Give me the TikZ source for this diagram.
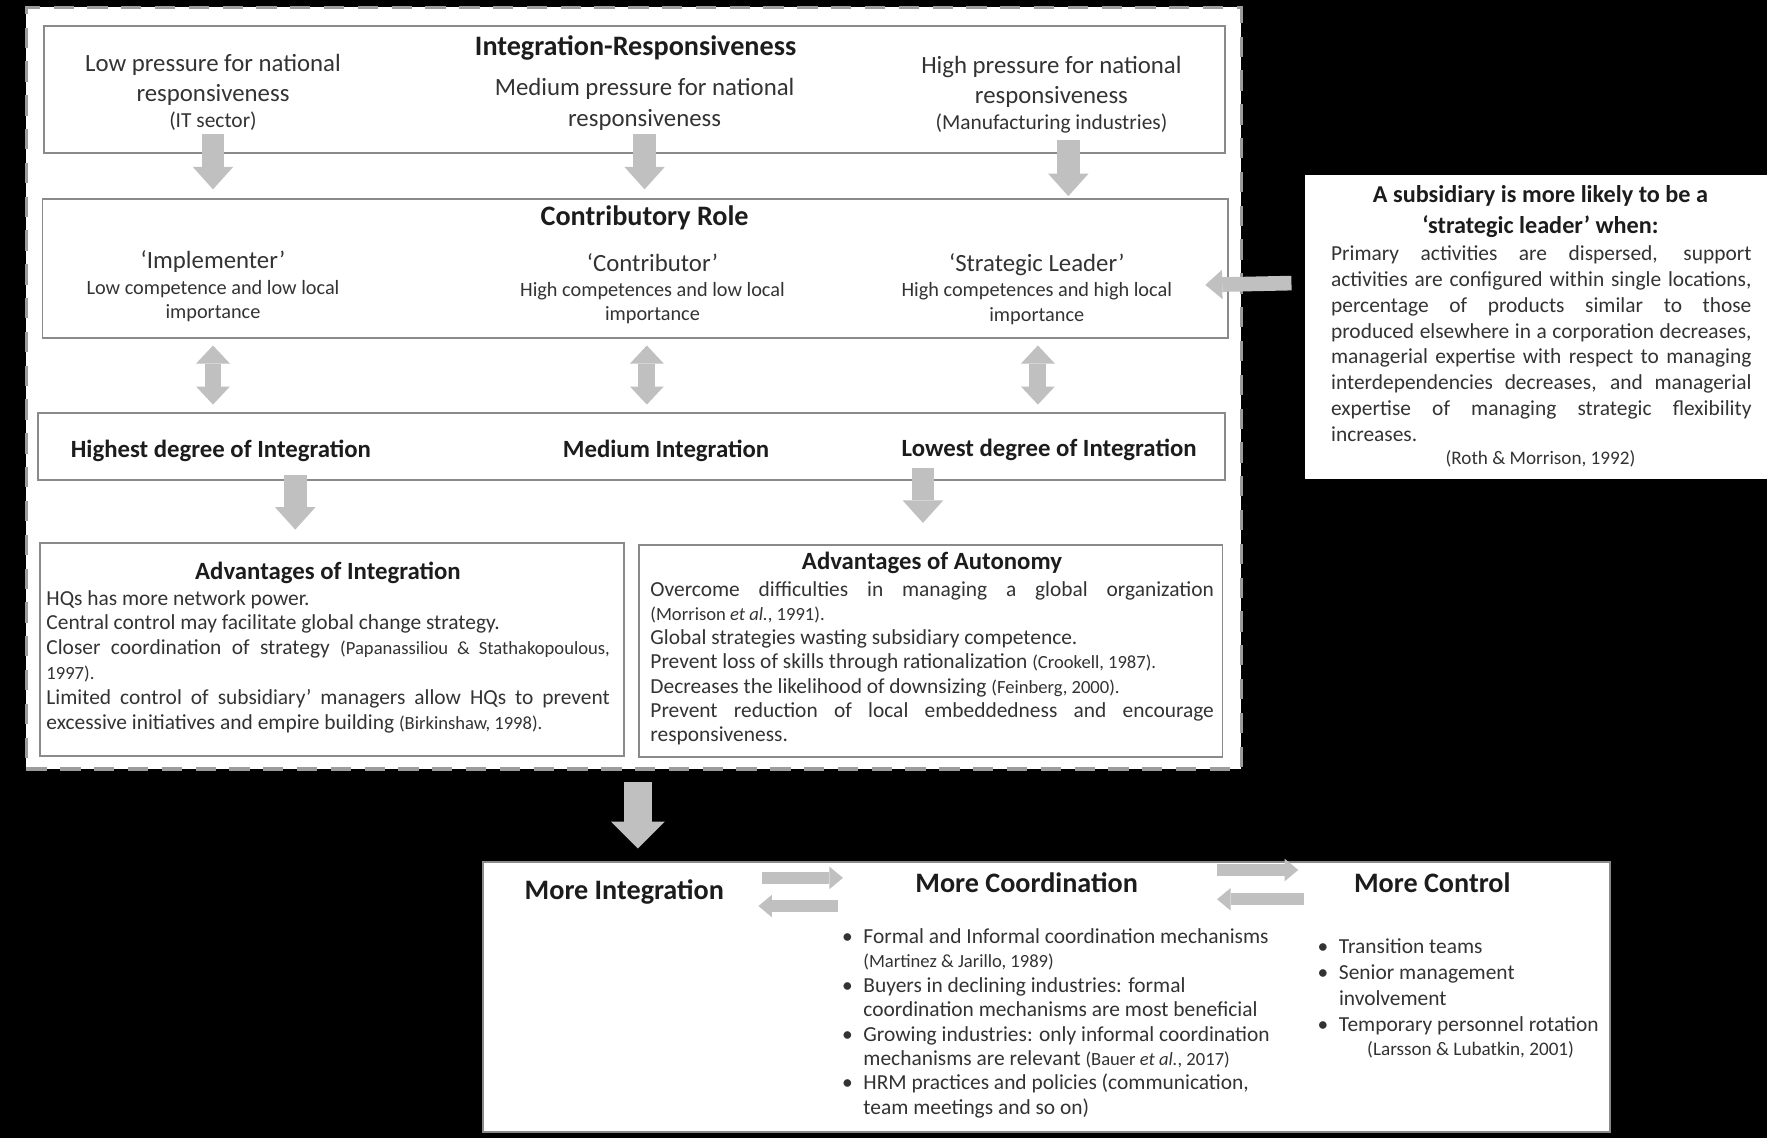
\documentclass[tikz,border=0pt]{standalone}
\usepackage{fontspec}
\setmainfont{Carlito}
\usetikzlibrary{arrows.meta,calc}
\definecolor{agray}{HTML}{C0C0C0}
\definecolor{bgray}{HTML}{8A8A8A}
\definecolor{dgray}{HTML}{9C9C9C}
\definecolor{txtc}{HTML}{333333}
\definecolor{ttlc}{HTML}{1C1C1C}
\newcommand\smallcite{\fontsize{16.5}{19}\selectfont}
\newcommand\jline[1]{\hbox to\hsize{#1}}
\newcommand\bul{\hbox to 19pt{\textbullet\hss}}
\newcommand\bulskip{\kern19pt}
\begin{document}
\begin{tikzpicture}[x=1pt,y=1pt,
  box/.style={draw=bgray,line width=1.6pt,fill=white,anchor=north west,inner sep=0pt},
  ttl/.style={font=\fontsize{25}{30}\selectfont\bfseries,text=ttlc,inner sep=0pt,anchor=base},
  sttl/.style={font=\fontsize{22}{27}\selectfont\bfseries,text=ttlc,inner sep=0pt,anchor=base},
  ctrtxt/.style={align=center,text=txtc,inner sep=0pt,anchor=base},
  bodytxt/.style={text=txtc,inner sep=0pt,anchor=base west},
  darr/.style={draw=agray,line width=20pt,-{Triangle[length=20pt,width=36pt,line width=0pt]}},
  dblarr/.style={draw=agray,line width=15pt,{Triangle[length=16pt,width=30pt,line width=0pt]}-{Triangle[length=16pt,width=30pt,line width=0pt]}},
  larr/.style={draw=agray,line width=13pt,-{Triangle[length=15pt,width=26pt,line width=0pt]}},
  harr/.style={draw=agray,line width=11pt,-{Triangle[length=12pt,width=20pt,line width=0pt]}},
  bigarr/.style={draw=agray,line width=25pt,-{Triangle[length=24pt,width=48pt,line width=0pt]}}
]
\useasboundingbox (0,0) rectangle (1568,-1010);
\fill[black] (0,0) rectangle (1568,-1010);

% outer dashed frame
\node[draw=dgray,fill=white,line width=3pt,dash pattern=on 18pt off 12pt,anchor=north west,inner sep=0pt,
  minimum width=1078pt,minimum height=676pt] (outer) at (22,-5) {};

% boxes
\node[box,minimum width=1048pt,minimum height=113pt] (b1) at (38,-22) {};
\node[box,minimum width=1052pt,minimum height=123pt] (b2) at (37,-176) {};
\node[box,minimum width=1053pt,minimum height=59pt] (b3) at (33,-366) {};
\node[box,minimum width=518pt,minimum height=189pt] (b4) at (35,-481) {};
\node[box,minimum width=518pt,minimum height=188pt] (b5) at (566,-483) {};
\node[fill=white,anchor=north west,inner sep=0pt,minimum width=410pt,minimum height=270pt] (rbox) at (1158,-155) {};
\node[box,minimum width=1000pt,minimum height=240pt] (bot) at (428,-764) {};

% box 1
\node[ttl] (t1) at (564,-49) {Integration-Responsiveness};
\node[ctrtxt,font=\fontsize{22}{27}\selectfont] (lowp) at (189,-113)
  {Low pressure for national\\responsiveness\\[-4pt]{\fontsize{19}{23}\selectfont (IT sector)}};
\node[ctrtxt,font=\fontsize{22}{27}\selectfont] (medp) at (572,-112)
  {Medium pressure for national\\responsiveness};
\node[ctrtxt,font=\fontsize{22}{27}\selectfont] (highp) at (933,-115)
  {High pressure for national\\responsiveness\\[-4pt]{\fontsize{19}{23}\selectfont (Manufacturing industries)}};

% box 2
\node[ttl] (t2) at (572,-200) {Contributory Role};
\node[ctrtxt,font=\fontsize{18}{21.5}\selectfont] (impl) at (189,-282.5)
  {{\fontsize{22}{26}\selectfont ‘Implementer’}\\[1pt]Low competence and low local\\importance};
\node[ctrtxt,font=\fontsize{18}{21.5}\selectfont] (contr) at (579,-284.5)
  {{\fontsize{22}{26}\selectfont ‘Contributor’}\\[1pt]High competences and low local\\importance};
\node[ctrtxt,font=\fontsize{18}{21.5}\selectfont] (strat) at (920,-285)
  {{\fontsize{22}{26}\selectfont ‘Strategic Leader’}\\[1pt]High competences and high local\\importance};

% box 3
\node[sttl] (hi) at (196,-406) {Highest degree of Integration};
\node[sttl] (med) at (591,-406) {Medium Integration};
\node[sttl] (lo) at (931,-405) {Lowest degree of Integration};

% box 4
\node[sttl] (t4) at (291,-514) {Advantages of Integration};
\node[bodytxt] (b4txt) at (41,-537) {\vtop{\hsize=500pt\fontsize{19}{22}\selectfont
  \hbox{HQs has more network power.}
  \hbox{Central control may facilitate global change strategy.}
  \jline{Closer coordination of strategy {\smallcite (Papanassiliou \& Stathakopoulous,}}
  \hbox{{\smallcite 1997).}}
  \jline{Limited control of subsidiary’ managers allow HQs to prevent}
  \hbox{excessive initiatives and empire building {\smallcite (Birkinshaw, 1998).}}}};

% box 5
\node[sttl] (t5) at (827,-505) {Advantages of Autonomy};
\node[bodytxt] (b5txt) at (577,-529) {\vtop{\hsize=500pt\fontsize{19}{21.5}\selectfont
  \jline{Overcome difficulties in managing a global organization}
  \hbox{{\smallcite (Morrison \textit{et al.}, 1991).}}
  \hbox{Global strategies wasting subsidiary competence.}
  \hbox{Prevent loss of skills through rationalization {\smallcite (Crookell, 1987).}}
  \hbox{Decreases the likelihood of downsizing {\smallcite (Feinberg, 2000).}}
  \jline{Prevent reduction of local embeddedness and encourage}
  \hbox{responsiveness.}}};

% right box
\node[ctrtxt,font=\fontsize{21.5}{27}\selectfont\bfseries,text=ttlc] (rtitle) at (1367,-207)
  {A subsidiary is more likely to be a\\‘strategic leader’ when:};
\node[bodytxt] (rbody) at (1181,-231) {\vtop{\hsize=373pt\fontsize{19}{23}\selectfont
  \jline{Primary activities are dispersed, support}
  \jline{activities are configured within single locations,}
  \jline{percentage of products similar to those}
  \jline{produced elsewhere in a corporation decreases,}
  \jline{managerial expertise with respect to managing}
  \jline{interdependencies decreases, and managerial}
  \jline{expertise of managing strategic flexibility}
  \hbox{increases.}}};
\node[ctrtxt,font=\fontsize{17}{20}\selectfont] (rcite) at (1367,-412) {(Roth \& Morrison, 1992)};

% bottom box
\node[ttl] (moreint) at (554,-798) {More Integration};
\node[ttl] (morecoord) at (911,-792) {More Coordination};
\node[ttl] (morectrl) at (1271,-792) {More Control};
\node[bodytxt] (coordlist) at (747,-837) {\vtop{\hsize=420pt\fontsize{19}{21.7}\selectfont
  \hbox{\bul Formal and Informal coordination mechanisms}
  \hbox{\bulskip{\smallcite (Martinez \& Jarillo, 1989)}}
  \hbox{\bul Buyers in declining industries: formal}
  \hbox{\bulskip coordination mechanisms are most beneficial}
  \hbox{\bul Growing industries: only informal coordination}
  \hbox{\bulskip mechanisms are relevant {\smallcite (Bauer \textit{et al.}, 2017)}}
  \hbox{\bul HRM practices and policies (communication,}
  \hbox{\bulskip team meetings and so on)}}};
\node[bodytxt] (ctrllist) at (1169,-846) {\vtop{\hsize=250pt\fontsize{19}{23}\selectfont
  \hbox{\bul Transition teams}
  \hbox{\bul Senior management}
  \hbox{\bulskip involvement}
  \hbox{\bul Temporary personnel rotation}}};
\node[ctrtxt,font=\fontsize{17}{20}\selectfont] (ctrlcite) at (1305,-937) {(Larsson \& Lubatkin, 2001)};

% arrows
\draw[darr] ($(lowp |- b1.south)+(0,18)$) -- ($(lowp |- b2.north)+(0,8)$);
\draw[darr] ($(medp |- b1.south)+(0,18)$) -- ($(medp |- b2.north)+(0,8)$);
\draw[darr] ($(highp |- b1.south)+(15,12)$) -- ($(highp |- b2.north)+(15,2)$);
\draw[dblarr] ($(impl |- b2.south)+(0,-6)$) -- ($(impl |- b3.north)+(0,7)$);
\draw[dblarr] ($(contr |- b2.south)+(-5,-6)$) -- ($(contr |- b3.north)+(-5,7)$);
\draw[dblarr] ($(strat |- b2.south)+(1,-6)$) -- ($(strat |- b3.north)+(1,7)$);
\draw[darr] ($(hi |- b3.south)+(66,5)$) -- ($(hi |- b4.north)+(66,11)$);
\draw[darr] ($(lo |- b3.south)+(-112,11)$) -- ($(lo |- b5.north)+(-112,19)$);
\draw[larr] ($(rbox.west)+(-12,39)$) -- ($(b2.east)+(-21,-14.5)$);
\draw[bigarr] ($(outer.south)+(3.5,-10)$) -- ($(outer.south |- bot.north)+(3.5,11)$);
\draw[harr] ($(bot.north west)+(248,-15)$) -- ($(bot.north west)+(320,-15)$);
\draw[harr] ($(bot.north west)+(316,-40)$) -- ($(bot.north west)+(245,-40)$);
\draw[harr] ($(bot.north west)+(652,-8)$) -- ($(bot.north west)+(724,-8)$);
\draw[harr] ($(bot.north west)+(729,-34)$) -- ($(bot.north west)+(652,-34)$);
\end{tikzpicture}
\end{document}
